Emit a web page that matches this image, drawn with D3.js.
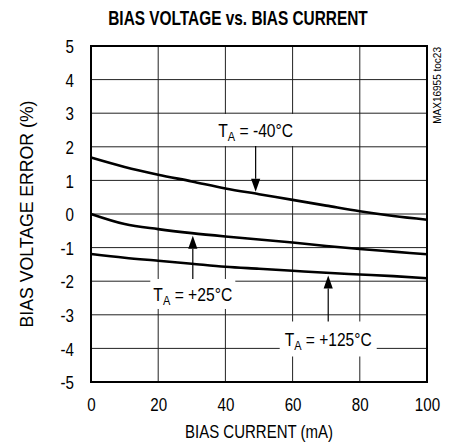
<!DOCTYPE html>
<html>
<head>
<meta charset="utf-8">
<script src="https://cdn.jsdelivr.net/npm/d3@7"></script>
<style>
html,body{margin:0;padding:0;background:#fff;}
svg{display:block;}
text{font-family:"Liberation Sans Narrow","Arial Narrow","Liberation Sans",Arial,sans-serif;fill:#000;}
</style>
</head>
<body>
<svg id="c" width="451" height="442"></svg>
<script>
const xValues = [0, 10, 20, 30, 40, 50, 60, 70, 80, 90, 100];
const seriesNames = ["-40°C", "+25°C", "+125°C"];
const tMinus40 = [1.68, 1.40, 1.17, 0.97, 0.76, 0.59, 0.42, 0.25, 0.08, -0.06, -0.17];
const t25 = [0.0, -0.30, -0.45, -0.57, -0.67, -0.76, -0.85, -0.95, -1.04, -1.12, -1.20];
const t125 = [-1.19, -1.30, -1.39, -1.48, -1.57, -1.63, -1.69, -1.75, -1.80, -1.85, -1.91];
const xTicks = [0, 20, 40, 60, 80, 100];
const yTicks = [-5, -4, -3, -2, -1, 0, 1, 2, 3, 4, 5];
// annotations: label, arrow x, arrow tip value, label centre value
const annLabels = ["-40°C", "+25°C", "+125°C"];
const annX = [49, 30.3, 70.6];
const annTip = [0.66, -0.65, -1.83];
const annLabelY = [2.5, -2.38, -3.72];

const svg = d3.select("#c");
const m = {left: 91, right: 427, top: 46, bottom: 382};
const x = d3.scaleLinear().domain([0, 100]).range([m.left, m.right]);
const y = d3.scaleLinear().domain([-5, 5]).range([m.bottom, m.top]);

// place text and squeeze horizontally to a target width (narrow face emulation)
function fit(sel, tx, ty, target, rot) {
  const w = sel.node().getBBox().width;
  const sx = target / w;
  sel.attr("x", 0).attr("y", 0)
    .attr("transform", `translate(${tx},${ty})${rot ? ` rotate(${rot})` : ""} scale(${sx},1)`);
}

// grid
const g = svg.append("g");
g.selectAll(".gx").data(xTicks.slice(1, -1)).enter().append("line")
  .attr("x1", d => x(d)).attr("x2", d => x(d)).attr("y1", m.top).attr("y2", m.bottom)
  .attr("stroke", "#222").attr("stroke-width", 1);
g.selectAll(".gy").data(yTicks.slice(1, -1)).enter().append("line")
  .attr("x1", m.left).attr("x2", m.right).attr("y1", d => y(d)).attr("y2", d => y(d))
  .attr("stroke", "#222").attr("stroke-width", 1);

// curves
const line = d3.line().x((d, i) => x(xValues[i])).y(d => y(d)).curve(d3.curveMonotoneX);
[tMinus40, t25, t125].forEach(s => {
  svg.append("path").attr("d", line(s)).attr("fill", "none")
    .attr("stroke", "#000").attr("stroke-width", 2.6);
});

// annotation boxes + arrows
const boxW = [90, 85, 97], boxH = [32, 30, 35], labW = [75, 79, 87];
annLabels.forEach((lab, i) => {
  const cx = x(annX[i]);
  const cy = y(annLabelY[i]);
  svg.append("rect").attr("x", cx - boxW[i] / 2).attr("y", cy - boxH[i] / 2)
    .attr("width", boxW[i]).attr("height", boxH[i]).attr("fill", "#fff");
  const t = svg.append("text").attr("text-anchor", "middle").style("font-size", "18.5px");
  t.append("tspan").text("T");
  t.append("tspan").text("A").style("font-size", "13px").attr("dy", 4);
  t.append("tspan").text(" = " + lab).attr("dy", -4);
  fit(t, cx, cy + 7, labW[i]);
  const tipY = y(annTip[i]);
  const down = tipY > cy;
  const startY = down ? cy + boxH[i] / 2 : cy - boxH[i] / 2;
  const headLen = 13, headW = 4.6;
  const baseY = down ? tipY - headLen : tipY + headLen;
  svg.append("line").attr("x1", cx).attr("x2", cx).attr("y1", startY).attr("y2", baseY)
    .attr("stroke", "#000").attr("stroke-width", 1.2);
  svg.append("path").attr("d", `M${cx},${tipY}L${cx - headW},${baseY}L${cx + headW},${baseY}Z`)
    .attr("fill", "#000");
});

// frame
svg.append("rect").attr("x", m.left).attr("y", m.top)
  .attr("width", m.right - m.left).attr("height", m.bottom - m.top)
  .attr("fill", "none").attr("stroke", "#000").attr("stroke-width", 2);

// axes labels
const fmt = d => String(d);
const xAxis = d3.axisBottom(x).tickValues(xTicks).tickSize(0).tickPadding(0).tickFormat(fmt);
const xa = svg.append("g").attr("transform", `translate(0,${m.bottom})`).call(xAxis);
xa.select(".domain").remove();
xa.selectAll("text").attr("y", 0).attr("dy", 0).attr("font-family", null)
  .style("font-size", "18.5px").attr("transform", "translate(0,29) scale(0.82,1)");

const yAxis = d3.axisLeft(y).tickValues(yTicks).tickSize(0).tickPadding(0).tickFormat(fmt);
const ya = svg.append("g").attr("transform", `translate(${m.left},0)`).call(yAxis);
ya.select(".domain").remove();
ya.selectAll("text").attr("x", 0).attr("dy", 0).attr("font-family", null)
  .style("font-size", "18.5px").attr("transform", "translate(-17,6.6) scale(0.82,1)");

const xt = svg.append("text").attr("text-anchor", "middle").style("font-size", "18.5px").text("BIAS CURRENT (mA)");
fit(xt, 259, 438, 148);
const yt = svg.append("text").attr("text-anchor", "middle").style("font-size", "18.5px").text("BIAS VOLTAGE ERROR (%)");
fit(yt, 33, 214, 227, -90);
const tt = svg.append("text").attr("text-anchor", "middle").style("font-size", "20.5px")
  .style("font-weight", "bold").text("BIAS VOLTAGE vs. BIAS CURRENT");
fit(tt, 238, 24.5, 260);
const st = svg.append("text").attr("text-anchor", "end").style("font-size", "10.5px").text("MAX16955 toc23");
fit(st, 441, 47, 77, -90);
</script>
</body>
</html>
